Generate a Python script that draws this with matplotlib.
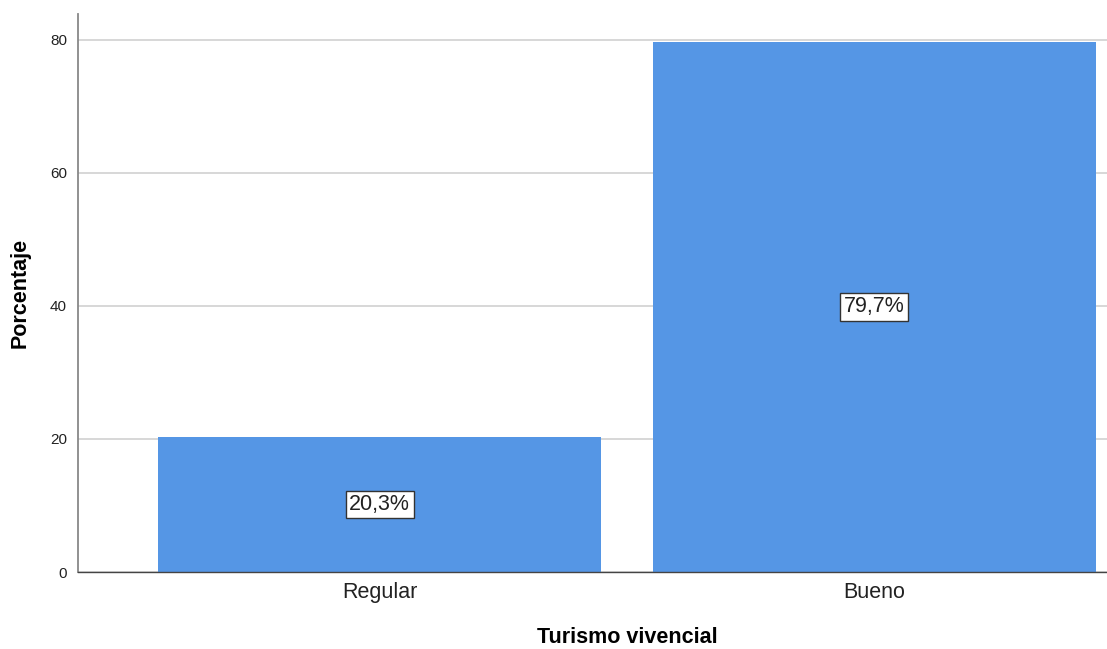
import matplotlib
matplotlib.use("Agg")
import matplotlib.pyplot as plt

categories = ["Regular", "Bueno"]
percentages = [20.3, 79.7]
yticks = [0, 20, 40, 60, 80]

plt.rcParams['font.family'] = ['Liberation Sans', 'DejaVu Sans']

fig = plt.figure(figsize=(11.07, 6.49), dpi=100)
ax = fig.add_axes([78 / 1107, 77 / 649, (1107 - 78) / 1107, (572 - 14) / 649])

x = list(range(len(categories)))
ax.bar(x, percentages, width=0.896, color="#5596e5", zorder=2)

for xi, v in zip(x, percentages):
    label = ("%.1f%%" % v).replace(".", ",")
    ax.text(xi, v / 2, label, ha="center", va="center", fontsize=15.5, color="#222222",
            bbox=dict(boxstyle="square,pad=0.16", facecolor="white", edgecolor="#333333", linewidth=1),
            zorder=3)

ax.set_xlim(-0.61, 1.471)
ax.set_ylim(0, 83.9)
ax.set_yticks(yticks)
ax.set_xticks(x)
ax.set_xticklabels(categories, fontsize=15.5, color="#222222")
ax.tick_params(axis="y", length=0, labelsize=11, pad=8, labelcolor="#222222")
ax.tick_params(axis="x", length=0, pad=7)
ax.yaxis.grid(True, color="#d4d4d4", linewidth=1.3, zorder=0)
ax.set_axisbelow(True)

for s in ["top", "right"]:
    ax.spines[s].set_visible(False)
ax.spines["left"].set_color("#888888")
ax.spines["left"].set_linewidth(1.3)
ax.spines["bottom"].set_color("#444444")
ax.spines["bottom"].set_linewidth(1.0)

ax.set_xlabel("Turismo vivencial", fontsize=15.5, fontweight="bold")
ax.set_ylabel("Porcentaje", fontsize=15.5, fontweight="bold")
ax.xaxis.set_label_coords(0.534, -0.117)
ax.yaxis.set_label_coords(-0.056, 0.5)
ax.yaxis.label.set_va("center")
ax.xaxis.label.set_va("center")

fig.savefig("out.png", dpi=100)
